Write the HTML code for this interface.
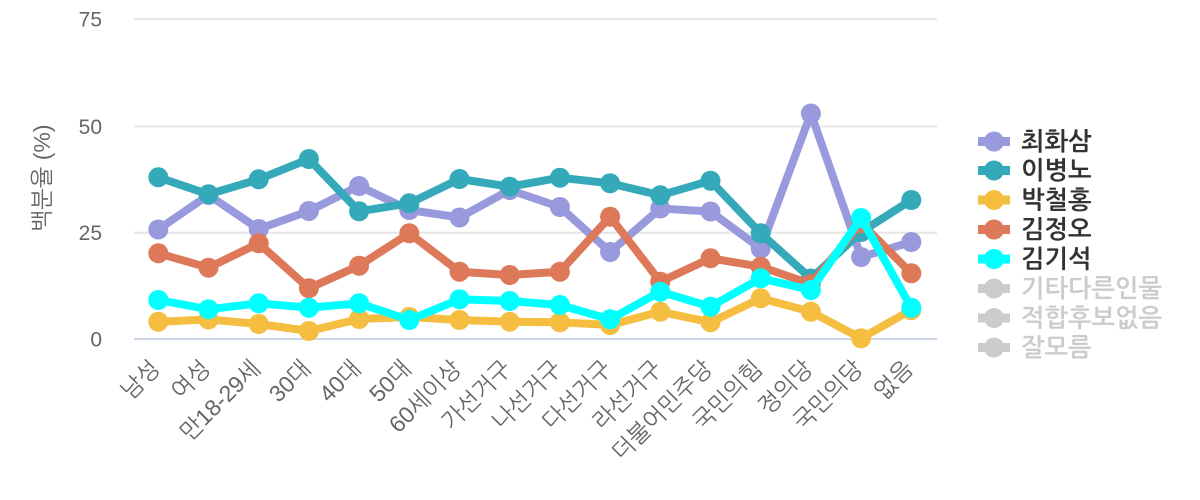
<!DOCTYPE html>
<html><head><meta charset="utf-8">
<style>
html,body{margin:0;padding:0;background:#fff;}
svg{display:block;}
text{font-family:"Liberation Sans","NanumGothic","Noto Sans CJK KR",sans-serif;}
</style></head>
<body>
<svg width="1200" height="500" viewBox="0 0 1200 500" xmlns="http://www.w3.org/2000/svg">
<rect width="1200" height="500" fill="#fff"/>
<!-- grid -->
<g stroke="#e6e6e6" stroke-width="2">
<line x1="134" y1="19" x2="937" y2="19"/>
<line x1="134" y1="126.5" x2="937" y2="126.5"/>
<line x1="134" y1="232.7" x2="937" y2="232.7"/>
</g>
<line x1="134" y1="339" x2="937" y2="339" stroke="#ccd6eb" stroke-width="2"/>
<!-- y labels -->
<g font-size="21" fill="#666" text-anchor="end">
<text x="102" y="26.5">75</text>
<text x="102" y="134">50</text>
<text x="102" y="240">25</text>
<text x="102" y="346.5">0</text>
</g>
<text transform="translate(50,178) rotate(-90)" font-size="23" fill="#666" text-anchor="middle">백분율 (%)</text>
<!-- x labels -->
<g font-size="23" fill="#666" text-anchor="end">
<text transform="translate(161,370) rotate(-45)">남성</text>
<text transform="translate(211.5,370) rotate(-45)">여성</text>
<text transform="translate(261.7,370) rotate(-45)">만18-29세</text>
<text transform="translate(311.9,370) rotate(-45)">30대</text>
<text transform="translate(362.1,370) rotate(-45)">40대</text>
<text transform="translate(412.3,370) rotate(-45)">50대</text>
<text transform="translate(462.5,370) rotate(-45)">60세이상</text>
<text transform="translate(512.7,370) rotate(-45)">가선거구</text>
<text transform="translate(562.9,370) rotate(-45)">나선거구</text>
<text transform="translate(613.1,370) rotate(-45)">다선거구</text>
<text transform="translate(663.3,370) rotate(-45)">라선거구</text>
<text transform="translate(713.5,370) rotate(-45)">더불어민주당</text>
<text transform="translate(763.7,370) rotate(-45)">국민의힘</text>
<text transform="translate(813.9,370) rotate(-45)">정의당</text>
<text transform="translate(864.1,370) rotate(-45)">국민의당</text>
<text transform="translate(914.3,370) rotate(-45)">없음</text>
</g>
<!-- series -->
<g fill="none" stroke-width="8" stroke-linejoin="round" stroke-linecap="round">
<polyline stroke="#9999dd" points="158.3,229.5 208.5,195 258.7,229 308.9,211 359.1,186 409.3,210 459.5,217.5 509.7,190 559.9,207 610.1,252 660.3,208.5 710.5,211.5 760.7,248.5 810.9,113.5 861.1,257 911.3,242"/>
</g>
<g fill="#9999dd">
<circle cx="158.3" cy="229.5" r="10"/><circle cx="208.5" cy="195" r="10"/><circle cx="258.7" cy="229" r="10"/><circle cx="308.9" cy="211" r="10"/><circle cx="359.1" cy="186" r="10"/><circle cx="409.3" cy="210" r="10"/><circle cx="459.5" cy="217.5" r="10"/><circle cx="509.7" cy="190" r="10"/><circle cx="559.9" cy="207" r="10"/><circle cx="610.1" cy="252" r="10"/><circle cx="660.3" cy="208.5" r="10"/><circle cx="710.5" cy="211.5" r="10"/><circle cx="760.7" cy="248.5" r="10"/><circle cx="810.9" cy="113.5" r="10"/><circle cx="861.1" cy="257" r="10"/><circle cx="911.3" cy="242" r="10"/>
</g>
<polyline fill="none" stroke-width="8" stroke-linejoin="round" stroke-linecap="round" stroke="#33a9b9" points="158.3,177.3 208.5,194.3 258.7,179.3 308.9,159 359.1,211.3 409.3,203.3 459.5,179 509.7,186.7 559.9,177.7 610.1,183.3 660.3,195.3 710.5,180.7 760.7,233.3 810.9,278.5 861.1,232 911.3,200"/>
<g fill="#33a9b9">
<circle cx="158.3" cy="177.3" r="10"/><circle cx="208.5" cy="194.3" r="10"/><circle cx="258.7" cy="179.3" r="10"/><circle cx="308.9" cy="159" r="10"/><circle cx="359.1" cy="211.3" r="10"/><circle cx="409.3" cy="203.3" r="10"/><circle cx="459.5" cy="179" r="10"/><circle cx="509.7" cy="186.7" r="10"/><circle cx="559.9" cy="177.7" r="10"/><circle cx="610.1" cy="183.3" r="10"/><circle cx="660.3" cy="195.3" r="10"/><circle cx="710.5" cy="180.7" r="10"/><circle cx="760.7" cy="233.3" r="10"/><circle cx="810.9" cy="278.5" r="10"/><circle cx="861.1" cy="232" r="10"/><circle cx="911.3" cy="200" r="10"/>
</g>
<polyline fill="none" stroke-width="8" stroke-linejoin="round" stroke-linecap="round" stroke="#f5be41" points="158.3,321.7 208.5,319.5 258.7,324 308.9,331 359.1,319 409.3,317 459.5,320 509.7,321.7 559.9,322.3 610.1,325 660.3,311.7 710.5,322.3 760.7,298.3 810.9,311.7 861.1,338.3 911.3,310"/>
<g fill="#f5be41">
<circle cx="158.3" cy="321.7" r="10"/><circle cx="208.5" cy="319.5" r="10"/><circle cx="258.7" cy="324" r="10"/><circle cx="308.9" cy="331" r="10"/><circle cx="359.1" cy="319" r="10"/><circle cx="409.3" cy="317" r="10"/><circle cx="459.5" cy="320" r="10"/><circle cx="509.7" cy="321.7" r="10"/><circle cx="559.9" cy="322.3" r="10"/><circle cx="610.1" cy="325" r="10"/><circle cx="660.3" cy="311.7" r="10"/><circle cx="710.5" cy="322.3" r="10"/><circle cx="760.7" cy="298.3" r="10"/><circle cx="810.9" cy="311.7" r="10"/><circle cx="861.1" cy="338.3" r="10"/><circle cx="911.3" cy="310" r="10"/>
</g>
<polyline fill="none" stroke-width="8" stroke-linejoin="round" stroke-linecap="round" stroke="#dd7858" points="158.3,253.3 208.5,267.7 258.7,243.3 308.9,288.3 359.1,265.7 409.3,233.3 459.5,271.7 509.7,275 559.9,271.7 610.1,216.7 660.3,281.7 710.5,258.3 760.7,266.7 810.9,284 861.1,223 911.3,273.3"/>
<g fill="#dd7858">
<circle cx="158.3" cy="253.3" r="10"/><circle cx="208.5" cy="267.7" r="10"/><circle cx="258.7" cy="243.3" r="10"/><circle cx="308.9" cy="288.3" r="10"/><circle cx="359.1" cy="265.7" r="10"/><circle cx="409.3" cy="233.3" r="10"/><circle cx="459.5" cy="271.7" r="10"/><circle cx="509.7" cy="275" r="10"/><circle cx="559.9" cy="271.7" r="10"/><circle cx="610.1" cy="216.7" r="10"/><circle cx="660.3" cy="281.7" r="10"/><circle cx="710.5" cy="258.3" r="10"/><circle cx="760.7" cy="266.7" r="10"/><circle cx="810.9" cy="284" r="10"/><circle cx="861.1" cy="223" r="10"/><circle cx="911.3" cy="273.3" r="10"/>
</g>
<polyline fill="none" stroke-width="8" stroke-linejoin="round" stroke-linecap="round" stroke="#00ffff" points="158.3,300 208.5,309.3 258.7,303.3 308.9,307.7 359.1,303.3 409.3,320 459.5,299.3 509.7,301 559.9,305 610.1,319.3 660.3,291.7 710.5,306.7 760.7,278.3 810.9,290 861.1,218 911.3,307.7"/>
<g fill="#00ffff">
<circle cx="158.3" cy="300" r="10"/><circle cx="208.5" cy="309.3" r="10"/><circle cx="258.7" cy="303.3" r="10"/><circle cx="308.9" cy="307.7" r="10"/><circle cx="359.1" cy="303.3" r="10"/><circle cx="409.3" cy="320" r="10"/><circle cx="459.5" cy="299.3" r="10"/><circle cx="509.7" cy="301" r="10"/><circle cx="559.9" cy="305" r="10"/><circle cx="610.1" cy="319.3" r="10"/><circle cx="660.3" cy="291.7" r="10"/><circle cx="710.5" cy="306.7" r="10"/><circle cx="760.7" cy="278.3" r="10"/><circle cx="810.9" cy="290" r="10"/><circle cx="861.1" cy="218" r="10"/><circle cx="911.3" cy="307.7" r="10"/>
</g>
<!-- legend -->
<g stroke-width="9">
<line x1="978" y1="141.5" x2="1010" y2="141.5" stroke="#9999dd"/>
<line x1="978" y1="170.5" x2="1010" y2="170.5" stroke="#33a9b9"/>
<line x1="978" y1="200" x2="1010" y2="200" stroke="#f5be41"/>
<line x1="978" y1="229.5" x2="1010" y2="229.5" stroke="#dd7858"/>
<line x1="978" y1="259" x2="1010" y2="259" stroke="#00ffff"/>
<line x1="978" y1="288.5" x2="1010" y2="288.5" stroke="#cccccc"/>
<line x1="978" y1="318" x2="1010" y2="318" stroke="#cccccc"/>
<line x1="978" y1="347.5" x2="1010" y2="347.5" stroke="#cccccc"/>
</g>
<circle cx="994" cy="141.5" r="10" fill="#9999dd"/>
<circle cx="994" cy="170.5" r="10" fill="#33a9b9"/>
<circle cx="994" cy="200" r="10" fill="#f5be41"/>
<circle cx="994" cy="229.5" r="10" fill="#dd7858"/>
<circle cx="994" cy="259" r="10" fill="#00ffff"/>
<circle cx="994" cy="288.5" r="10" fill="#cccccc"/>
<circle cx="994" cy="318" r="10" fill="#cccccc"/>
<circle cx="994" cy="347.5" r="10" fill="#cccccc"/>
<g font-size="25" font-weight="bold">
<text x="1021" y="150" fill="#333">최화삼</text>
<text x="1021" y="179" fill="#333">이병노</text>
<text x="1021" y="208.5" fill="#333">박철홍</text>
<text x="1021" y="238" fill="#333">김정오</text>
<text x="1021" y="267.5" fill="#333">김기석</text>
<text x="1021" y="297" fill="#ccc">기타다른인물</text>
<text x="1021" y="326.5" fill="#ccc">적합후보없음</text>
<text x="1021" y="356" fill="#ccc">잘모름</text>
</g>
</svg>
</body></html>
